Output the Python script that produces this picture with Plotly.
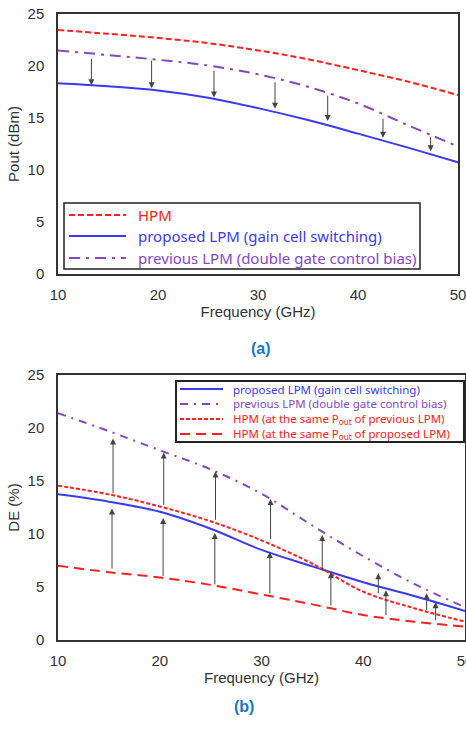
import plotly.graph_objects as go

# ---- shared frequency grid (GHz) ----
freq = [10, 15, 20, 25, 30, 35, 40, 45, 50]

# ---- (a) output power, dBm ----
pout_hpm = [23.46, 23.1, 22.7, 22.2, 21.5, 20.65, 19.6, 18.5, 17.2]
pout_proposed = [18.34, 18.05, 17.65, 16.95, 15.95, 14.8, 13.5, 12.15, 10.75]
pout_previous = [21.5, 21.05, 20.6, 20.05, 19.2, 18.0, 16.4, 14.3, 12.26]

# arrows: previous LPM -> proposed LPM
arrow_a_freq = [13.34, 19.36, 25.6, 31.7, 36.97, 42.5, 47.26]
arrow_a_from = [20.84, 20.65, 19.7, 18.57, 17.3, 15.08, 13.3]
arrow_a_to = [18.15, 17.86, 16.97, 15.9, 14.7, 13.1, 11.8]

# ---- (b) drain efficiency, % ----
de_proposed = [13.74, 13.05, 12.1, 10.5, 8.5, 6.95, 5.45, 4.15, 2.74]
de_previous = [21.4, 19.7, 17.9, 16.1, 13.8, 10.8, 7.9, 5.3, 3.1]
de_hpm_prev = [14.56, 13.74, 12.6, 11.2, 9.4, 7.2, 4.56, 3.0, 1.73]
de_hpm_prop = [7.0, 6.4, 5.9, 5.2, 4.3, 3.36, 2.36, 1.73, 1.26]

# arrows: HPM at equal Pout -> LPM
arrow_b_freq = [15.31, 15.41, 20.33, 20.39, 25.41, 25.48, 30.82, 30.89,
                35.97, 36.82, 41.48, 42.23, 46.23, 47.11]
arrow_b_from = [6.6, 13.7, 5.9, 12.6, 5.1, 11.2, 4.25, 9.4,
                6.4, 3.1, 4.25, 2.2, 2.67, 1.73]
arrow_b_to = [12.4, 19.0, 11.5, 17.7, 10.1, 15.9, 8.3, 13.3,
              9.9, 6.4, 6.3, 4.7, 4.4, 3.55]

# legend labels
labels_a = ["HPM", "proposed LPM (gain cell switching)",
            "previous LPM (double gate control bias)"]
labels_b = ["proposed LPM (gain cell switching)",
            "previous LPM (double gate control bias)",
            "HPM (at the same P<sub>out</sub> of previous LPM)",
            "HPM (at the same P<sub>out</sub> of proposed LPM)"]

RED = "#ff2020"
BLUE = "#3a3af0"
PURPLE = "#8547c2"
AXIS_FONT = dict(family="Liberation Sans, Arial, sans-serif", size=15, color="#333333")
LEG_FONT = "Noto Sans, Open Sans, sans-serif"
W, H = 466, 729

DASH_HPM_A = "6px,3px"
DASH_PREV_A = "11px,6px,3px,6px"
DASH_PREV_B = "8px,6px,2px,6px"
DASH_HPM_PREV_B = "4px,2px"
DASH_HPM_PROP_B = "10px,6px"


def px(x):
    return x / W


def py(y):
    return 1 - y / H


fig = go.Figure()

# (a) traces
styles_a = [(pout_hpm, RED, DASH_HPM_A), (pout_proposed, BLUE, "solid"),
            (pout_previous, PURPLE, DASH_PREV_A)]
for (vals, col, dash), lab in zip(styles_a, labels_a):
    fig.add_trace(go.Scatter(x=freq, y=vals, mode="lines", line_shape="spline",
                             line=dict(color=col, width=2, dash=dash), name=lab,
                             showlegend=False, xaxis="x", yaxis="y"))

# (b) traces
styles_b = [(de_proposed, BLUE, "solid"), (de_previous, PURPLE, DASH_PREV_B),
            (de_hpm_prev, RED, DASH_HPM_PREV_B), (de_hpm_prop, RED, DASH_HPM_PROP_B)]
for (vals, col, dash), lab in zip(styles_b, labels_b):
    fig.add_trace(go.Scatter(x=freq, y=vals, mode="lines", line_shape="spline",
                             line=dict(color=col, width=2, dash=dash), name=lab,
                             showlegend=False, xaxis="x2", yaxis="y2"))

annotations = []
shapes = []
for fx, y0, y1 in zip(arrow_a_freq, arrow_a_from, arrow_a_to):
    annotations.append(dict(x=fx, y=y1, ax=fx, ay=y0, xref="x", yref="y",
                            axref="x", ayref="y", showarrow=True, arrowhead=2,
                            arrowsize=1.2, arrowwidth=1, arrowcolor="#444444",
                            standoff=0, startstandoff=0, text=""))
for fx, y0, y1 in zip(arrow_b_freq, arrow_b_from, arrow_b_to):
    annotations.append(dict(x=fx, y=y1, ax=fx, ay=y0, xref="x2", yref="y2",
                            axref="x2", ayref="y2", showarrow=True, arrowhead=2,
                            arrowsize=1.2, arrowwidth=1, arrowcolor="#444444",
                            standoff=0, startstandoff=0, text=""))


def add_legend(box, rows, line_x, text_x, size, styles, labels, border):
    x0, y0, x1, y1 = box
    shapes.append(dict(type="rect", xref="paper", yref="paper",
                       x0=px(x0), x1=px(x1), y0=py(y1), y1=py(y0),
                       line=dict(color="#222222", width=border), fillcolor="white",
                       layer="above"))
    for ry, (vals, col, dash), lab in zip(rows, styles, labels):
        shapes.append(dict(type="line", xref="paper", yref="paper",
                           x0=px(line_x[0]), x1=px(line_x[1]), y0=py(ry), y1=py(ry),
                           line=dict(color=col, width=2, dash=dash), layer="above"))
        annotations.append(dict(text=lab, x=px(text_x), y=py(ry), xref="paper", yref="paper",
                                xanchor="left", yanchor="middle", showarrow=False,
                                borderpad=0,
                                font=dict(family=LEG_FONT, size=size, color=col)))


add_legend((64, 203, 420, 269), [215, 236, 258], (69, 126), 137, 15, styles_a, labels_a, 1.5)
add_legend((176, 381, 464, 442), [389, 404, 419, 434], (180, 223), 232, 11.5, styles_b, labels_b, 2)

# panel captions
annotations.append(dict(text="<b>(a)</b>", x=px(261), y=py(348), xref="paper", yref="paper",
                        showarrow=False, font=dict(family="Liberation Sans, Arial", size=16, color="#1877c9")))
annotations.append(dict(text="<b>(b)</b>", x=px(244), y=py(717), xref="paper", yref="paper",
                        showarrow=False, font=dict(family="Liberation Sans, Arial", size=16, color="#1877c9")))

axis_common = dict(showline=True, mirror=True, linecolor="#333333", linewidth=1.5,
                   showgrid=False, zeroline=False, ticks="outside",
                   tickcolor="rgba(0,0,0,0)", tickfont=AXIS_FONT, automargin=False,
                   ticklabeloverflow="allow")

fig.update_layout(
    width=W, height=H,
    margin=dict(l=0, r=0, t=0, b=0),
    paper_bgcolor="white", plot_bgcolor="white",
    showlegend=False,
    xaxis=dict(domain=[px(58), px(458)], range=[10, 50], dtick=10, anchor="y", ticklen=6,
               title=dict(text="Frequency (GHz)", font=AXIS_FONT, standoff=5), **axis_common),
    yaxis=dict(domain=[py(274), py(14)], range=[0, 25], dtick=5, anchor="x", ticklen=9,
               title=dict(text="Pout (dBm)", font=AXIS_FONT, standoff=4), **axis_common),
    xaxis2=dict(domain=[px(58), px(465)], range=[10, 50], dtick=10, anchor="y2", ticklen=6,
                title=dict(text="Frequency (GHz)", font=AXIS_FONT, standoff=5), **axis_common),
    yaxis2=dict(domain=[py(640), py(375)], range=[0, 25], dtick=5, anchor="x2", ticklen=9,
                title=dict(text="DE (%)", font=AXIS_FONT, standoff=4), **axis_common),
    shapes=shapes,
    annotations=annotations,
)

fig.write_html("out.html")
